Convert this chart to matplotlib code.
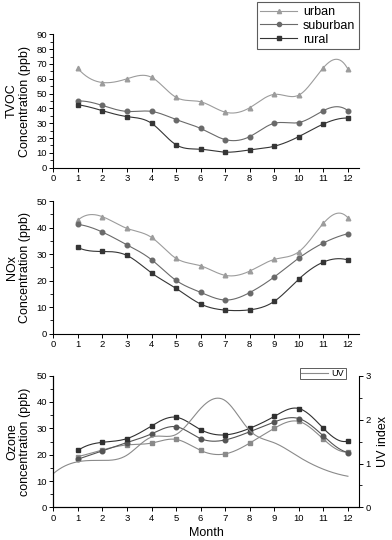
import numpy as np
import matplotlib
matplotlib.use("Agg")
import matplotlib.pyplot as plt
from matplotlib.ticker import MultipleLocator
from matplotlib.lines import Line2D

plt.rcParams["font.family"] = ["Liberation Sans", "DejaVu Sans"]

months = np.arange(1, 13)

tvoc_urban = [67, 57.5, 60, 61, 47.5, 44.5, 37.5, 40.5, 49.5, 49, 67.5, 66.5]
tvoc_suburban = [45, 42, 38, 38, 32.5, 26.5, 19, 21, 30, 30.5, 38.5, 38.5]
tvoc_rural = [42.5, 38.5, 34.5, 30, 15.5, 12.5, 10.5, 12, 14.5, 21, 29.5, 33.5]

nox_urban = [42.8, 44.1, 39.7, 36.3, 28.4, 25.6, 22, 23.6, 28, 30.9, 41.6, 43.7]
nox_suburban = [41.2, 38.3, 33.5, 27.9, 20.1, 15.6, 12.7, 15.5, 21.4, 28.5, 34.2, 37.7]
nox_rural = [32.5, 31, 29.5, 22.9, 17.1, 11.2, 8.9, 9, 12.2, 20.6, 27, 27.8]

o3_dark = [21.6, 24.7, 26.1, 30.9, 34.2, 29.5, 27.5, 30, 34.5, 37.5, 30, 25.2]
o3_mid = [18.3, 21.5, 24.6, 27.9, 30.6, 26.1, 25.6, 28.7, 32.4, 33.7, 27.1, 20.8]
o3_light = [19.3, 21.8, 23.7, 24.4, 25.8, 21.6, 20.3, 24.4, 30, 32.6, 25.9, 21.1]

uv_months = np.arange(0, 13)
uv_index = [0.77, 1.04, 1.07, 1.19, 1.6, 1.66, 2.25, 2.43, 1.75, 1.47, 1.15, 0.87, 0.71]


def spline(x, y, n=300):
    # cubic spline, not-a-knot ends
    x = np.asarray(x, float)
    y = np.asarray(y, float)
    k = len(x)
    h = np.diff(x)
    A = np.zeros((k, k))
    b = np.zeros(k)
    A[0, 0], A[0, 1], A[0, 2] = h[1], -(h[0] + h[1]), h[0]
    A[-1, -3], A[-1, -2], A[-1, -1] = h[-1], -(h[-2] + h[-1]), h[-2]
    for i in range(1, k - 1):
        A[i, i - 1] = h[i - 1]
        A[i, i] = 2 * (h[i - 1] + h[i])
        A[i, i + 1] = h[i]
        b[i] = 3 * ((y[i + 1] - y[i]) / h[i] - (y[i] - y[i - 1]) / h[i - 1])
    c = np.linalg.solve(A, b)
    xs = np.linspace(x[0], x[-1], n)
    idx = np.clip(np.searchsorted(x, xs) - 1, 0, k - 2)
    dx = xs - x[idx]
    bb = (y[idx + 1] - y[idx]) / h[idx] - h[idx] * (2 * c[idx] + c[idx + 1]) / 3
    d = (c[idx + 1] - c[idx]) / (3 * h[idx])
    ys = y[idx] + bb * dx + c[idx] * dx ** 2 + d * dx ** 3
    return xs, ys


def draw(ax, y, color, marker):
    xs, ys = spline(months, y)
    ax.plot(xs, ys, color=color, lw=0.8)
    ax.plot(months, y, color=color, lw=0, marker=marker, ms=3.3)


def style(ax, ymax):
    ax.set_xlim(0, 12.47)
    ax.set_ylim(0, ymax)
    ax.xaxis.set_major_locator(MultipleLocator(1))
    ax.yaxis.set_major_locator(MultipleLocator(10))
    ax.yaxis.set_minor_locator(MultipleLocator(5))
    ax.spines["top"].set_visible(False)
    ax.spines["right"].set_visible(False)
    ax.tick_params(direction="out", labelsize=6.8, length=3, width=0.7, pad=1.5)
    ax.tick_params(which="minor", direction="out", length=2, width=0.6)
    for s in ax.spines.values():
        s.set_linewidth(0.8)


c_urban = "#9c9c9c"
c_sub = "#6a6a6a"
c_rural = "#353535"

fig = plt.figure(figsize=(3.92, 5.4), dpi=100)
ax1 = fig.add_axes([0.136, 0.6894, 0.781, 0.247])
ax2 = fig.add_axes([0.136, 0.382, 0.781, 0.2457])
ax3 = fig.add_axes([0.136, 0.0602, 0.781, 0.2444])

draw(ax1, tvoc_urban, c_urban, "^")
draw(ax1, tvoc_suburban, c_sub, "o")
draw(ax1, tvoc_rural, c_rural, "s")
style(ax1, 90)
ax1.set_ylabel("TVOC\nConcentration (ppb)", fontsize=9, linespacing=1.1, labelpad=4)

draw(ax2, nox_urban, c_urban, "^")
draw(ax2, nox_suburban, c_sub, "o")
draw(ax2, nox_rural, c_rural, "s")
style(ax2, 50)
ax2.set_ylabel("NOx\nConcentration (ppb)", fontsize=9, linespacing=1.1, labelpad=4)

draw(ax3, o3_light, "#8a8a8a", "s")
draw(ax3, o3_mid, "#555555", "o")
draw(ax3, o3_dark, "#303030", "s")
style(ax3, 50)
ax3.set_ylabel("Ozone\nconcentration (ppb)", fontsize=9, linespacing=1.1, labelpad=4)
ax3.set_xlabel("Month", fontsize=9, labelpad=3)

ax4 = ax3.twinx()
uxs, uys = spline(uv_months, uv_index)
ax4.plot(uxs, uys, color="#8a8a8a", lw=0.8, label="UV")
ax4.set_xlim(0, 12.47)
ax4.set_ylim(0, 3)
ax4.yaxis.set_major_locator(MultipleLocator(1))
ax4.yaxis.set_minor_locator(MultipleLocator(0.5))
ax4.spines["top"].set_visible(False)
ax4.tick_params(direction="out", labelsize=6.8, length=3, width=0.7, pad=1.5)
ax4.tick_params(which="minor", direction="out", length=2, width=0.6)
for s in ax4.spines.values():
    s.set_linewidth(0.8)
ax4.set_ylabel("UV index", fontsize=9, labelpad=4)
leg2 = ax4.legend(loc="upper right", bbox_to_anchor=(0.955, 1.06), fontsize=6.5,
                  frameon=True, fancybox=False, edgecolor="#333333",
                  handlelength=3.0, borderpad=0.15, handletextpad=0.4,
                  borderaxespad=0)
leg2.get_frame().set_linewidth(0.7)

handles = [
    Line2D([], [], color=c_urban, lw=0.8, marker="^", ms=3),
    Line2D([], [], color=c_sub, lw=0.8, marker="o", ms=3),
    Line2D([], [], color=c_rural, lw=0.8, marker="s", ms=3),
]
leg = fig.legend(handles, ["urban", "suburban", "rural"], loc="upper right",
                 bbox_to_anchor=(0.916, 0.996), fontsize=9, frameon=True,
                 fancybox=False, edgecolor="#333333", handlelength=2.9,
                 borderpad=0.3, labelspacing=0.15, handletextpad=0.5,
                 borderaxespad=0)
leg.get_frame().set_linewidth(0.8)

fig.savefig("out.png", dpi=100)
